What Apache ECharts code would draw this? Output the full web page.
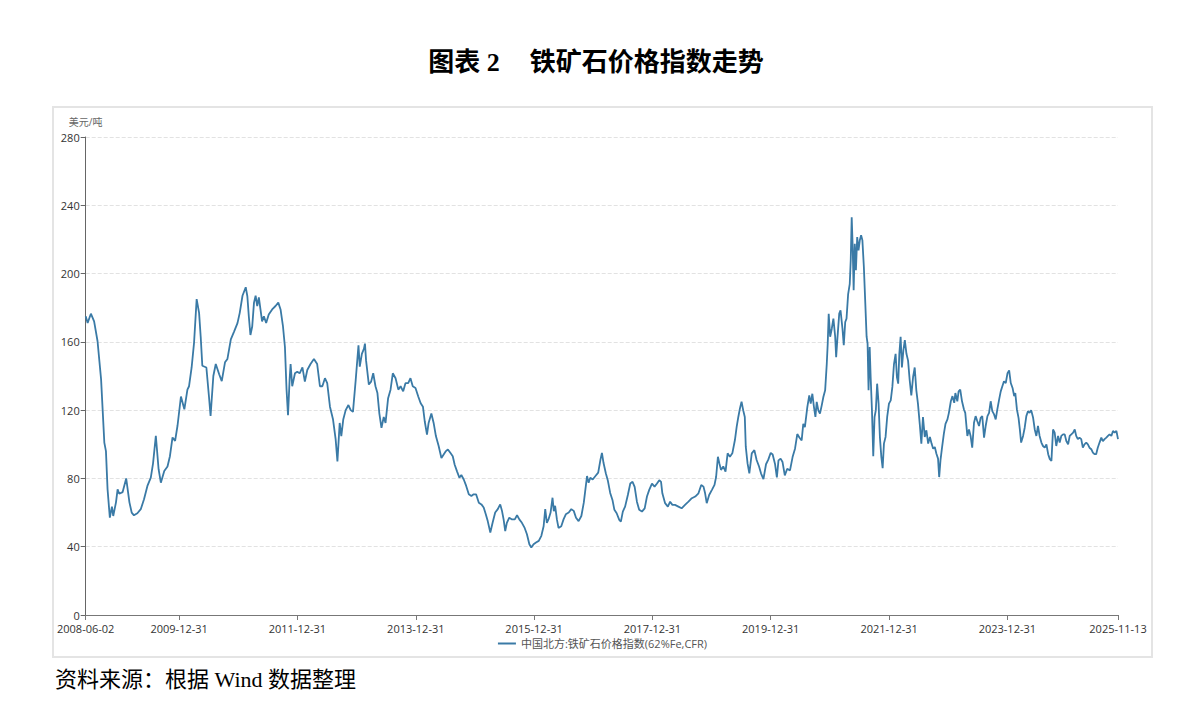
<!DOCTYPE html>
<html>
<head>
<meta charset="utf-8">
<title>铁矿石价格指数走势</title>
<script src="https://cdn.jsdelivr.net/npm/echarts@6/dist/echarts.min.js"></script>
<style>
html, body { margin: 0; padding: 0; background: #fff; }
#title {
    position: absolute; left: 0; top: 41px; width: 1192px; text-align: center;
    font-family: "Liberation Serif", "Noto Sans CJK SC", serif; font-weight: bold; font-size: 26px; color: #000;
}
#title .gap { display: inline-block; width: 30px; }
#box { position: absolute; left: 52px; top: 106px; width: 1097px; height: 548px; border: 2px solid #e4e4e4; }
#chart { width: 100%; height: 100%; }
#source {
    position: absolute; left: 55px; top: 661px;
    font-family: "Liberation Serif", "Noto Sans CJK SC", serif; font-size: 22px; color: #000;
}
</style>
</head>
<body>
<div id="title">图表 2<span class="gap"></span>铁矿石价格指数走势</div>
<div id="box"><div id="chart"></div></div>
<div id="source">资料来源：根据 Wind 数据整理</div>
<script>
// 中国北方:铁矿石价格指数(62%Fe,CFR)
var dates = [
    '2008-06-02','2008-06-14','2008-07-04','2008-07-24','2008-08-14','2008-09-05','2008-09-25','2008-10-05','2008-10-15','2008-10-29','2008-11-11','2008-11-19','2008-12-06','2008-12-16','2008-12-26',
    '2009-01-16','2009-02-07','2009-02-27','2009-03-13','2009-03-27','2009-04-17','2009-05-08','2009-05-28','2009-06-18','2009-07-09','2009-07-23','2009-08-09','2009-08-26','2009-09-09','2009-09-30','2009-10-20','2009-11-04','2009-11-20','2009-12-06','2009-12-21',
    '2010-01-11','2010-02-01','2010-02-20','2010-03-02','2010-03-18','2010-04-02','2010-04-18','2010-05-03','2010-05-13','2010-05-23','2010-06-17','2010-07-03','2010-07-13','2010-07-30','2010-08-14','2010-09-04','2010-09-20','2010-10-10','2010-10-25','2010-11-15','2010-12-05','2010-12-26',
    '2011-01-09','2011-01-26','2011-02-15','2011-02-25','2011-03-06','2011-03-16','2011-03-27','2011-04-07','2011-04-17','2011-04-27','2011-05-07','2011-05-17','2011-05-27','2011-06-07','2011-06-21','2011-07-07','2011-07-28','2011-08-18','2011-09-04','2011-09-18','2011-10-03','2011-10-15','2011-10-25','2011-11-03','2011-11-13','2011-11-19','2011-11-29','2011-12-16','2011-12-30',
    '2012-01-14','2012-01-31','2012-02-15','2012-03-01','2012-03-21','2012-04-11','2012-05-01','2012-05-18','2012-06-02','2012-06-18','2012-07-02','2012-07-19','2012-08-07','2012-08-23','2012-09-03','2012-09-17','2012-09-27','2012-10-09','2012-10-24','2012-11-10','2012-11-24','2012-12-08','2012-12-25',
    '2013-01-11','2013-01-19','2013-02-01','2013-02-14','2013-02-20','2013-02-27','2013-03-16','2013-03-30','2013-04-12','2013-04-26','2013-05-08','2013-05-20','2013-06-02','2013-06-16','2013-06-27','2013-07-13','2013-07-28','2013-08-11','2013-08-28','2013-09-14','2013-09-28','2013-10-14','2013-10-28','2013-11-14','2013-11-28','2013-12-12','2013-12-29',
    '2014-01-15','2014-01-30','2014-02-13','2014-02-24','2014-03-10','2014-03-20','2014-04-06','2014-04-20','2014-05-04','2014-05-21','2014-06-07','2014-06-21','2014-07-05','2014-07-17','2014-08-01','2014-08-16','2014-08-28','2014-09-12','2014-09-26','2014-10-08','2014-10-23','2014-11-07','2014-11-23','2014-12-09','2014-12-23',
    '2015-01-07','2015-01-24','2015-02-09','2015-02-23','2015-03-08','2015-03-20','2015-04-05','2015-04-19','2015-05-05','2015-05-21','2015-06-05','2015-06-16','2015-06-26','2015-07-06','2015-07-16','2015-07-31','2015-08-17','2015-09-03','2015-09-17','2015-10-01','2015-10-17','2015-11-03','2015-11-17','2015-12-02','2015-12-14','2015-12-28',
    '2016-01-12','2016-01-29','2016-02-14','2016-02-28','2016-03-09','2016-03-19','2016-03-29','2016-04-11','2016-04-23','2016-05-01','2016-05-09','2016-05-20','2016-05-30','2016-06-16','2016-06-30','2016-07-14','2016-08-01','2016-08-17','2016-09-01','2016-09-15','2016-10-01','2016-10-18','2016-11-02','2016-11-12','2016-11-22','2016-12-02','2016-12-12','2016-12-27',
    '2017-01-13','2017-01-30','2017-02-13','2017-02-22','2017-03-04','2017-03-18','2017-03-30','2017-04-14','2017-04-28','2017-05-10','2017-05-24','2017-06-09','2017-06-19','2017-07-01','2017-07-15','2017-08-01','2017-08-16','2017-08-30','2017-09-12','2017-09-26','2017-10-10','2017-10-27','2017-11-13','2017-11-27','2017-12-11','2017-12-28',
    '2018-01-13','2018-01-28','2018-02-11','2018-02-22','2018-03-02','2018-03-19','2018-04-05','2018-04-19','2018-05-03','2018-05-19','2018-06-09','2018-06-29','2018-07-20','2018-08-10','2018-08-31','2018-09-21','2018-10-11','2018-10-28','2018-11-11','2018-11-21','2018-12-01','2018-12-16',
    '2019-01-02','2019-01-18','2019-01-28','2019-02-08','2019-02-17','2019-02-27','2019-03-13','2019-03-27','2019-04-09','2019-04-23','2019-05-08','2019-05-24','2019-06-04','2019-06-14','2019-06-24','2019-07-04','2019-07-14','2019-07-24','2019-07-30','2019-08-10','2019-08-21','2019-09-05','2019-09-21','2019-10-05','2019-10-20','2019-11-01','2019-11-16','2019-12-02','2019-12-16','2019-12-31',
    '2020-01-12','2020-01-27','2020-02-07','2020-02-17','2020-03-01','2020-03-13','2020-03-27','2020-04-11','2020-04-28','2020-05-14','2020-05-29','2020-06-12','2020-06-25','2020-07-09','2020-07-19','2020-07-29','2020-08-13','2020-08-25','2020-09-03','2020-09-13','2020-09-23','2020-10-02','2020-10-10','2020-10-20','2020-10-30','2020-11-10','2020-11-20','2020-12-01','2020-12-11','2020-12-17','2020-12-23',
    '2021-01-01','2021-01-11','2021-01-21','2021-02-01','2021-02-07','2021-02-14','2021-02-26','2021-03-06','2021-03-18','2021-03-26','2021-04-04','2021-04-12','2021-04-22','2021-05-02','2021-05-08','2021-05-14','2021-05-20','2021-05-26','2021-06-02','2021-06-09','2021-06-17','2021-06-25','2021-07-03','2021-07-11','2021-07-19','2021-07-28','2021-08-06','2021-08-14','2021-08-20','2021-08-26','2021-09-02','2021-09-08','2021-09-16','2021-09-24','2021-10-02','2021-10-10','2021-10-18','2021-10-27','2021-11-04','2021-11-13','2021-11-21','2021-11-29','2021-12-09','2021-12-19','2021-12-30',
    '2022-01-10','2022-01-20','2022-01-30','2022-02-09','2022-02-17','2022-02-25','2022-03-04','2022-03-12','2022-03-20','2022-03-29','2022-04-07','2022-04-17','2022-04-27','2022-05-07','2022-05-17','2022-05-28','2022-06-07','2022-06-17','2022-06-27','2022-07-08','2022-07-18','2022-07-28','2022-08-08','2022-08-18','2022-08-29','2022-09-09','2022-09-19','2022-09-29','2022-10-09','2022-10-19','2022-10-29','2022-11-05','2022-11-13','2022-11-23','2022-12-04','2022-12-14','2022-12-26',
    '2023-01-04','2023-01-16','2023-01-26','2023-02-06','2023-02-13','2023-02-25','2023-03-05','2023-03-15','2023-03-26','2023-04-07','2023-04-15','2023-04-28','2023-05-08','2023-05-18','2023-05-28','2023-06-08','2023-06-18','2023-06-28','2023-07-09','2023-07-19','2023-07-29','2023-08-09','2023-08-19','2023-08-30','2023-09-09','2023-09-19','2023-09-29','2023-10-10','2023-10-20','2023-10-30','2023-11-10','2023-11-20','2023-11-30','2023-12-10','2023-12-21',
    '2024-01-01','2024-01-11','2024-01-21','2024-02-01','2024-02-11','2024-02-18','2024-02-28','2024-03-09','2024-03-17','2024-03-25','2024-04-06','2024-04-16','2024-04-26','2024-05-06','2024-05-16','2024-05-26','2024-06-07','2024-06-17','2024-06-27','2024-07-07','2024-07-17','2024-07-28','2024-08-07','2024-08-18','2024-08-28','2024-09-08','2024-09-18','2024-09-28','2024-10-08','2024-10-18','2024-10-28','2024-11-08','2024-11-18','2024-11-28','2024-12-09','2024-12-19','2024-12-29',
    '2025-01-09','2025-01-19','2025-01-29','2025-02-09','2025-02-19','2025-02-28','2025-03-10','2025-03-20','2025-03-31','2025-04-10','2025-04-20','2025-05-01','2025-05-11','2025-05-21','2025-06-01','2025-06-11','2025-06-21','2025-07-01','2025-07-11','2025-07-22','2025-08-02','2025-08-12','2025-08-22','2025-09-02','2025-09-12','2025-09-22','2025-10-03','2025-10-13','2025-10-23','2025-11-03','2025-11-07','2025-11-13'
];

var prices = [
    175, 171, 176.5, 172, 160.5, 138, 101, 96, 73.6, 57, 63.5, 58, 66, 73.6, 71,
    72, 80, 66, 60, 58.4, 59.6, 62, 67.8, 75.6, 80.5, 89, 105, 85.4, 77.5, 84.4, 87, 93, 104, 102, 111,
    128, 120.5, 132, 134, 145, 159.6, 185, 177, 163, 146, 145, 128, 116.6, 140, 147, 141, 137, 148, 150, 161.5, 166, 171,
    177, 187, 192, 186.7, 175, 164, 169, 183, 187, 181, 186, 179, 172, 175, 171, 176, 179, 181, 183, 179, 169, 157, 132, 117, 138, 147, 134, 141.6, 142.5,
    141.6, 145, 136.7, 143.5, 147, 150, 147, 134, 134, 138.7, 135.8, 122, 114.5, 103, 90, 112.5, 104.8, 114.5, 120, 123, 120, 119, 137.7,
    158, 145.5, 153, 156, 159, 149, 135, 136.7, 141.6, 134, 130, 118, 109.6, 116, 112.5, 127, 132, 141.6, 138.7, 132, 134, 131, 135.8, 135.8, 138.7, 134, 133,
    128, 124, 122, 113.5, 105.7, 112.5, 118, 112.5, 104.8, 99, 92, 94, 96, 97, 95, 93, 88, 84, 80.4, 82, 79.4, 75.6, 70.7, 69.7, 70.7,
    70.7, 65.8, 64.8, 63, 59, 55, 48.3, 54, 60, 62, 64.8, 61, 56, 49.2, 54, 57, 56, 56, 58.4, 56, 54, 51, 47.3, 41.4, 39.5, 41.4,
    42.5, 43.4, 46.4, 52, 62, 54, 56, 60, 68.7, 60.8, 64, 56, 51, 52, 56, 59, 60, 62, 61, 57, 55, 58, 65.8, 73.6, 81.4, 77.5, 80.4, 79.4,
    81.4, 83.4, 91, 95, 89, 83, 79, 71.5, 67.4, 61.6, 59.6, 55.7, 54.7, 60.6, 63.5, 70.3, 77, 78, 75, 66.4, 61.6, 60.6, 62.5, 69.4, 73.3, 77,
    75.2, 77, 79, 78, 71.3, 65.5, 63.5, 66.4, 64.5, 64.5, 63.5, 62.5, 64.5, 66.4, 68.4, 69.4, 71.3, 76.2, 75.2, 71.3, 65.5, 70.3,
    73.3, 76.2, 81, 92.7, 88.8, 85, 87, 84, 94.7, 92.7, 94.7, 102.5, 110.3, 116, 121, 125, 120, 116, 98.6, 88.8, 83, 94.7, 96.6, 90.8, 87, 83, 79.6, 88.3, 91, 95,
    94, 88.3, 80.6, 90.6, 91.6, 89.6, 81.8, 85.7, 84.7, 92.5, 97.4, 106, 104, 102.3, 112, 110, 121.8, 128.7, 123.8, 129.6, 121.8, 116, 124.8, 119.9, 118, 122.8, 127.7, 131.6, 147, 159, 176.5,
    163, 167.7, 173.6, 163, 151, 161, 176.5, 178.5, 167.7, 158, 171.6, 173.6, 188, 194, 207.8, 233, 215.6, 190.2, 217.5, 202, 221.4, 213.6, 219.5, 222.4, 219.5, 204, 182.4, 163, 159, 131.6, 157, 139.4, 120, 93, 116, 120, 135.5, 123.8, 104.3, 92.5, 86, 100.4, 104.3, 116, 123.8,
    125.7, 133.6, 147, 153, 139.4, 135.5, 153, 162.9, 145, 155, 161, 153, 149, 137.5, 128.7, 139.4, 145, 131.6, 123.8, 112, 100.4, 116, 104.3, 108.2, 100.4, 104.3, 100.4, 97.4, 98.4, 94.5, 91.6, 80.8, 90.6, 98.4, 106.2, 112, 114.6,
    118.4, 125.2, 128.2, 124.3, 130, 125.2, 131, 132, 125.2, 120.4, 118.4, 104.9, 108.7, 104.9, 98, 112.6, 116.5, 113.6, 110.7, 115.5, 116.5, 103.9, 110.7, 116.5, 118.4, 125.2, 119.4, 117.5, 114.6, 120.4, 126.2, 131, 134, 136.9, 135.9,
    141.7, 143.3, 135.9, 133, 128.2, 130, 120.4, 115.5, 108.7, 101, 104.9, 109.7, 116.5, 119.4, 118.4, 120, 115.5, 108.7, 104.9, 110.7, 104.9, 101, 99, 98, 100, 94.2, 91.3, 90.3, 108.7, 106.8, 99, 104.9, 101, 104.9, 105.8, 105.8, 101.9,
    100, 104.9, 105.8, 106.8, 108.7, 104.9, 103, 103.9, 103, 98, 100, 101, 100, 98, 97.1, 95.1, 94.2, 94.2, 98, 101, 103.9, 101.9, 103, 103.9, 104.9, 105.8, 104.9, 107.8, 106.8, 107.8, 106, 103
];

var tickDates = ['2008-06-02', '2009-12-31', '2011-12-31', '2013-12-31', '2015-12-31',
                 '2017-12-31', '2019-12-31', '2021-12-31', '2023-12-31', '2025-11-13'];

var seriesName = '中国北方:铁矿石价格指数(62%Fe,CFR)';
var lineColor = '#3a7aa6';

function toTime(s) {
    return echarts.number.parseDate(s).getTime();
}

var tickValues = tickDates.map(toTime);
var data = [];
for (var i = 0; i < dates.length; i++) {
    data.push([toTime(dates[i]), prices[i]]);
}

var chart = echarts.init(document.getElementById('chart'), null, {renderer: 'svg'});
var option = {
    animation: false,
    textStyle: {fontFamily: '"Open Sans", "Noto Sans CJK SC", sans-serif'},
    grid: {left: 28, top: 29, right: 33, bottom: 41},
    legend: {
        top: 528,
        left: 'center',
        icon: 'rect',
        itemWidth: 18,
        itemHeight: 2,
        padding: 2,
        textStyle: {color: '#555', fontSize: 11},
        data: [seriesName]
    },
    // dates as timestamps on a value axis, so the labels can sit on the exact report dates
    xAxis: {
        type: 'value',
        min: toTime('2008-06-02'),
        max: toTime('2025-11-13'),
        axisLine: {lineStyle: {color: '#777'}},
        axisTick: {show: true, customValues: tickValues, length: 5, lineStyle: {color: '#777'}},
        axisLabel: {
            customValues: tickValues,
            color: '#333',
            fontSize: 11,
            margin: 8,
            formatter: function(v) {
                return echarts.time.format(v, '{yyyy}-{MM}-{dd}', false);
            }
        },
        splitLine: {show: false}
    },
    yAxis: {
        type: 'value',
        min: 0,
        max: 280,
        interval: 40,
        name: '美元/吨',
        nameLocation: 'end',
        nameGap: 10,
        nameTextStyle: {color: '#666', fontSize: 10},
        axisLine: {show: true, lineStyle: {color: '#666'}},
        axisTick: {show: true, length: 5, lineStyle: {color: '#666'}},
        axisLabel: {color: '#333', fontSize: 11, margin: 6},
        splitLine: {lineStyle: {type: 'dashed', color: '#e2e2e2'}}
    },
    series: [{
        name: seriesName,
        type: 'line',
        data: data,
        symbol: 'none',
        showSymbol: false,
        lineStyle: {width: 1.8, color: lineColor},
        itemStyle: {color: lineColor}
    }]
};
chart.setOption(option);
</script>
</body>
</html>
